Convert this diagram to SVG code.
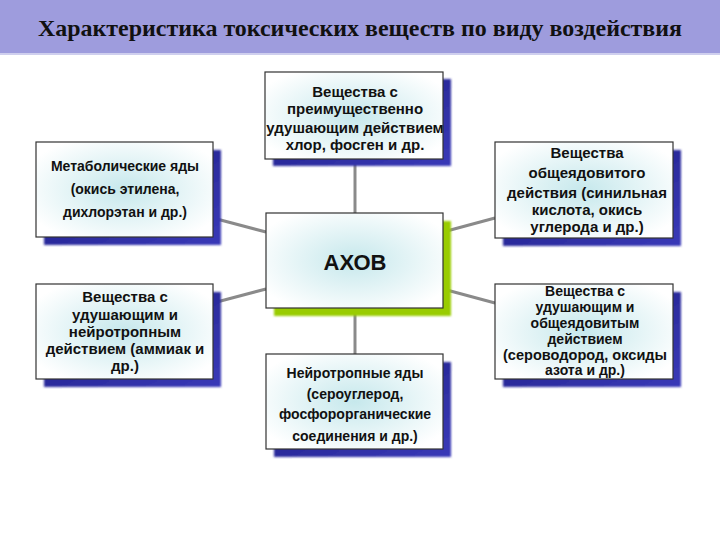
<svg xmlns="http://www.w3.org/2000/svg" width="720" height="540" viewBox="0 0 720 540">
<style>
.box{fill:url(#boxFill);stroke:#333;stroke-width:1.2}
.sh{fill:url(#shadowFill);filter:url(#blur)}
.t{font-family:"Liberation Sans","DejaVu Sans",sans-serif;font-size:14px;font-weight:bold;fill:#111;text-anchor:middle}
.t15{font-size:15px}
.con{stroke:#8a8a8a;stroke-width:3;fill:none}
</style>
<defs>
<radialGradient id="boxFill" cx="50%" cy="50%" r="60%">
<stop offset="0" stop-color="#c6e8ec"/>
<stop offset="1" stop-color="#ffffff"/>
</radialGradient>
<linearGradient id="shadowFill" x1="0" y1="0" x2="1" y2="1">
<stop offset="0" stop-color="#1c1c80"/>
<stop offset="1" stop-color="#3a3ab8"/>
</linearGradient>
<filter id="blur" x="-10%" y="-10%" width="120%" height="120%">
<feGaussianBlur stdDeviation="1.2"/>
</filter>
</defs>
<rect x="0" y="0" width="720" height="53" fill="#9e9cdd"/>
<rect x="0" y="53" width="720" height="2" fill="#cfcfee"/>
<text x="360" y="36" font-family="Liberation Serif,serif" font-weight="bold" font-size="23" text-anchor="middle" fill="#111" textLength="644" lengthAdjust="spacingAndGlyphs">Характеристика токсических веществ по виду воздействия</text>
<g id="connectors">
<line class="con" x1="355" y1="159" x2="355" y2="213"/>
<line class="con" x1="355" y1="308" x2="355" y2="354"/>
<line class="con" x1="213" y1="218" x2="266" y2="232"/>
<line class="con" x1="213" y1="303" x2="266" y2="289"/>
<line class="con" x1="443" y1="232" x2="495" y2="218"/>
<line class="con" x1="443" y1="289" x2="495" y2="303"/>
</g>
<g id="center">
<rect x="274" y="221" width="177" height="95" fill="#99cc00" filter="url(#blur)"/>
<rect class="box" x="266" y="213" width="177" height="95"/>
<text x="355" y="270" font-family="Liberation Sans,sans-serif" font-weight="bold" font-size="22" text-anchor="middle" fill="#111">АХОВ</text>
</g>
<g id="top">
<rect class="sh" x="273" y="79" width="178" height="87"/>
<rect class="box" x="265" y="72" width="178" height="87"/>
<text class="t t15" x="355" y="97">Вещества с</text>
<text class="t t15" x="355" y="114">преимущественно</text>
<text class="t t15" x="355" y="133">удушающим действием</text>
<text class="t t15" x="355" y="150">хлор, фосген и др.</text>
</g>
<g id="leftTop">
<rect class="sh" x="44" y="150" width="177" height="95"/>
<rect class="box" x="36" y="142" width="177" height="95"/>
<text class="t" x="125" y="171">Метаболические яды</text>
<text class="t" x="125" y="194">(окись этилена,</text>
<text class="t" x="125" y="217">дихлорэтан  и др.)</text>
</g>
<g id="rightTop">
<rect class="sh" x="503" y="150" width="178" height="96"/>
<rect class="box" x="495" y="142" width="178" height="96"/>
<text class="t t15" x="587" y="158">Вещества</text>
<text class="t t15" x="587" y="178">общеядовитого</text>
<text class="t t15" x="587" y="198">действия (синильная</text>
<text class="t t15" x="587" y="215">кислота, окись</text>
<text class="t t15" x="587" y="232">углерода и др.)</text>
</g>
<g id="leftBottom">
<rect class="sh" x="44" y="292" width="177" height="95"/>
<rect class="box" x="36" y="284" width="177" height="95"/>
<text class="t t15" x="125" y="302">Вещества с</text>
<text class="t t15" x="125" y="320">удушающим и</text>
<text class="t t15" x="125" y="337">нейротропным</text>
<text class="t t15" x="125" y="354">действием (аммиак и</text>
<text class="t t15" x="125" y="371">др.)</text>
</g>
<g id="rightBottom">
<rect class="sh" x="503" y="292" width="178" height="95"/>
<rect class="box" x="495" y="284" width="178" height="95"/>
<text class="t" x="585" y="296">Вещества с</text>
<text class="t" x="585" y="312">удушающим и</text>
<text class="t" x="585" y="328">общеядовитым</text>
<text class="t" x="585" y="344">действием</text>
<text class="t" x="585" y="360" textLength="164" lengthAdjust="spacingAndGlyphs">(сероводород, оксиды</text>
<text class="t" x="585" y="375">азота и др.)</text>
</g>
<g id="bottom">
<rect class="sh" x="274" y="362" width="177" height="95"/>
<rect class="box" x="266" y="354" width="177" height="95"/>
<text class="t" x="355" y="378">Нейротропные яды</text>
<text class="t" x="355" y="399">(сероуглерод,</text>
<text class="t" x="355" y="419">фосфорорганические</text>
<text class="t" x="355" y="441">соединения и др.)</text>
</g>
</svg>
